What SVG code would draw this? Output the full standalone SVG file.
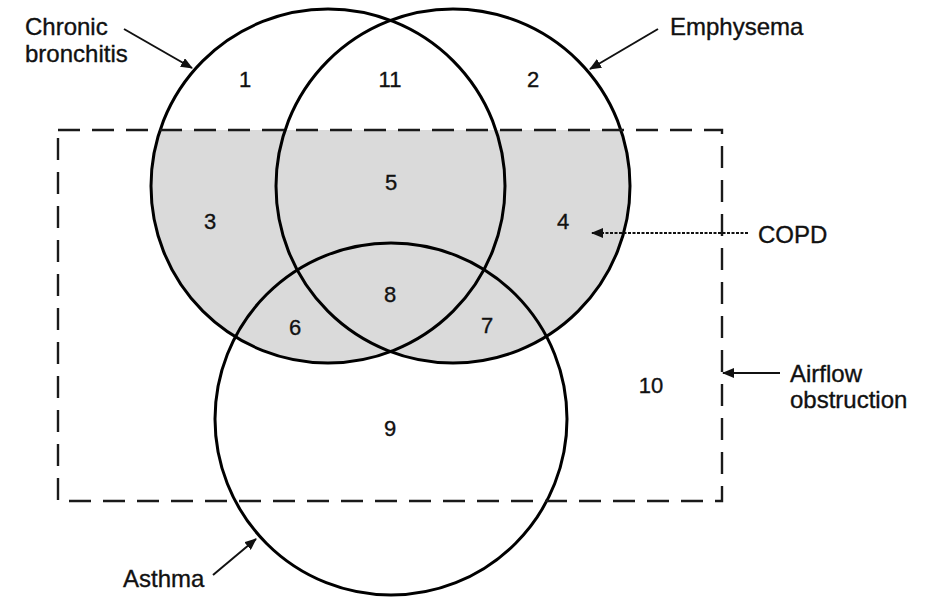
<svg xmlns="http://www.w3.org/2000/svg" width="933" height="600" viewBox="0 0 933 600">
<style>
.c{fill:none;stroke:#000;stroke-width:3}
.lbl{font-family:"Liberation Sans",Arial,sans-serif;font-size:24px;fill:#111;stroke:#111;stroke-width:0.35}
.num{font-family:"Liberation Sans",Arial,sans-serif;font-size:22px;fill:#111;stroke:#111;stroke-width:0.35;text-anchor:middle}
.ar{stroke:#111;stroke-width:2;fill:none;marker-end:url(#ah)}
</style>
<defs>
<marker id="ah" viewBox="0 0 12 10" refX="11" refY="5" markerWidth="12" markerHeight="10" markerUnits="userSpaceOnUse" orient="auto">
<path d="M0,0 L12,5 L0,10 Z" fill="#111"/>
</marker>
<clipPath id="rc"><rect x="58" y="130" width="664" height="371"/></clipPath>
</defs>
<rect width="933" height="600" fill="#fff"/>
<g id="copd-fill" clip-path="url(#rc)" fill="#dadada">
<circle cx="328" cy="186" r="177"/>
<circle cx="453" cy="186" r="177"/>
</g>
<g id="chronic-bronchitis">
<circle class="c" cx="328" cy="186" r="177"/>
<text class="lbl" x="25" y="35">Chronic</text>
<text class="lbl" x="25" y="62">bronchitis</text>
</g>
<g id="emphysema">
<circle class="c" cx="453" cy="186" r="177"/>
<text class="lbl" x="670" y="35">Emphysema</text>
</g>
<g id="asthma">
<circle class="c" cx="391" cy="419" r="176"/>
<text class="lbl" x="123" y="587">Asthma</text>
</g>
<g id="airflow-obstruction">
<rect x="58" y="130" width="664" height="371" fill="none" stroke="#1a1a1a" stroke-width="2.4" stroke-dasharray="22,12"/>
<text class="lbl" x="790" y="382">Airflow</text>
<text class="lbl" x="790" y="408">obstruction</text>
</g>
<g id="copd">
<text class="lbl" x="758" y="243">COPD</text>
</g>
<g id="regions">
<text class="num" x="245" y="87">1</text>
<text class="num" x="390" y="87">11</text>
<text class="num" x="533" y="87">2</text>
<text class="num" x="210" y="229">3</text>
<text class="num" x="391" y="190">5</text>
<text class="num" x="563" y="229">4</text>
<text class="num" x="390" y="302">8</text>
<text class="num" x="295" y="335">6</text>
<text class="num" x="487" y="333">7</text>
<text class="num" x="390" y="436">9</text>
<text class="num" x="651" y="393">10</text>
</g>
<g id="connectors">
<line class="ar" x1="124" y1="29" x2="192" y2="68"/>
<line class="ar" x1="658" y1="29" x2="590" y2="69"/>
<line class="ar" x1="748" y1="233" x2="592" y2="233" stroke="#444" stroke-dasharray="3,1.5" stroke-width="2"/>
<line class="ar" x1="780" y1="373" x2="723" y2="373"/>
<line class="ar" x1="213" y1="575" x2="256" y2="539"/>
</g>
</svg>
